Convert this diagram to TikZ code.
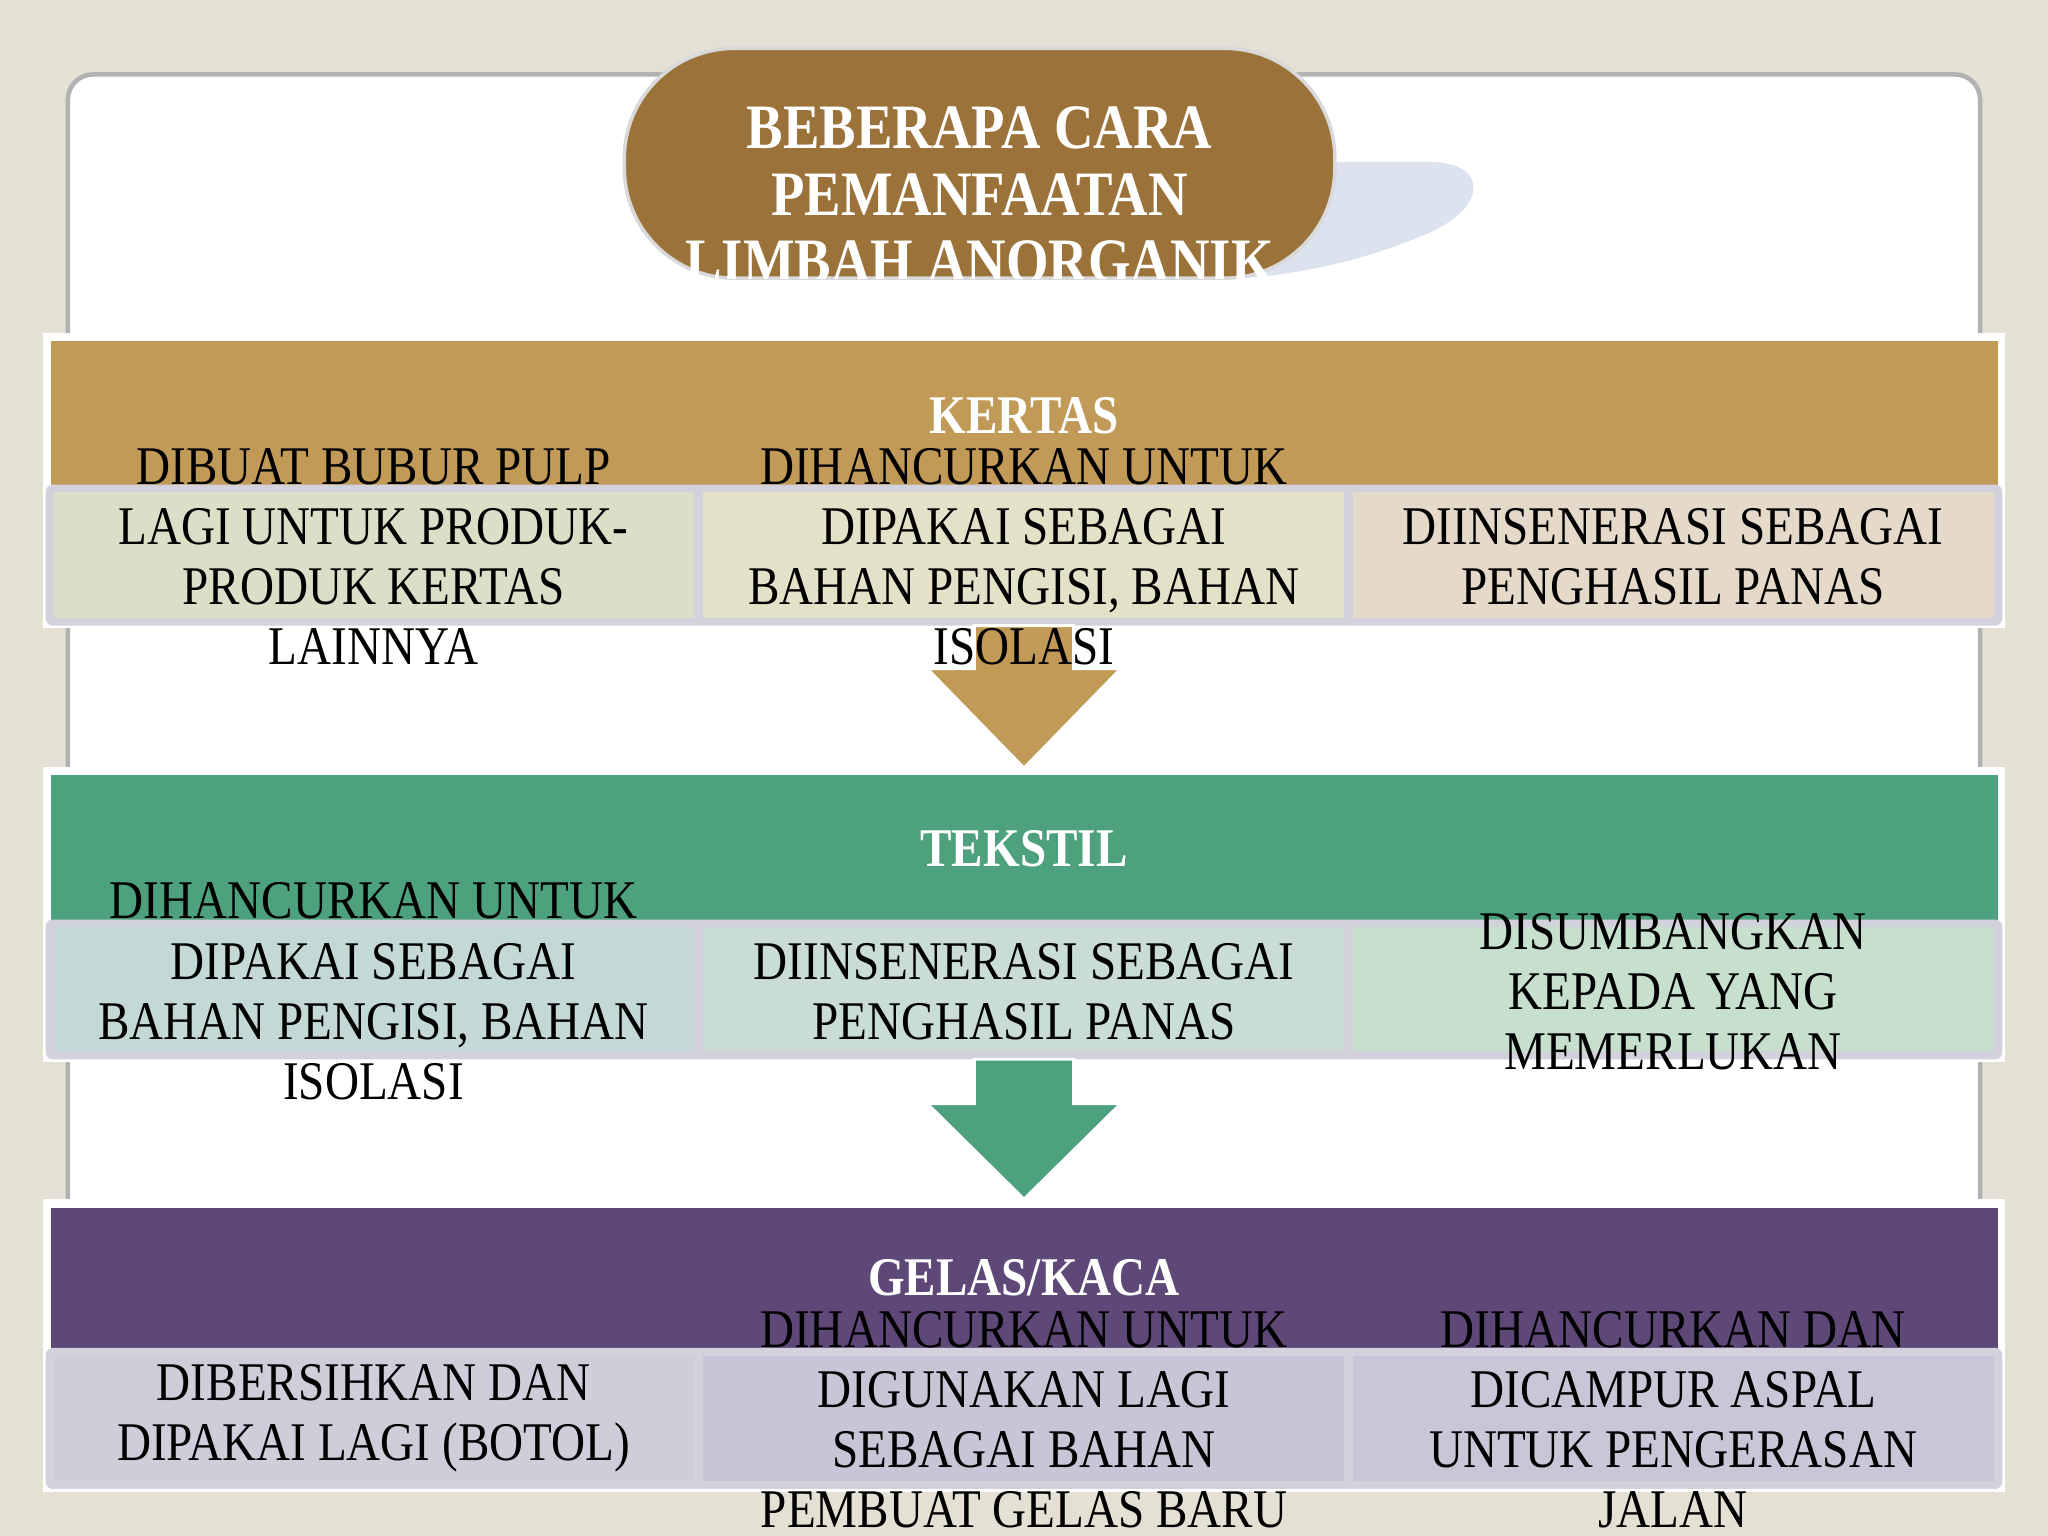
\documentclass[tikz,border=0pt]{standalone}
\usepackage{fontspec}
\setmainfont{Liberation Serif}[FakeStretch=0.865]
\definecolor{bgc}{HTML}{E4E0D4}
\definecolor{pillc}{HTML}{9B733A}
\definecolor{shadowc}{HTML}{DCE3EE}
\definecolor{kband}{HTML}{C19A58}
\definecolor{kcellA}{HTML}{DCDFC7}
\definecolor{kcellB}{HTML}{E3E1C7}
\definecolor{kcellC}{HTML}{E5D9C9}
\definecolor{tband}{HTML}{4EA17D}
\definecolor{tcellA}{HTML}{C4D9D5}
\definecolor{tcellB}{HTML}{C9DCD5}
\definecolor{tcellC}{HTML}{C6E0CD}
\definecolor{gband}{HTML}{5E4878}
\definecolor{gcellA}{HTML}{D1CCDA}
\definecolor{gcellB}{HTML}{C8C6D6}
\definecolor{gcellC}{HTML}{C9C7D7}
\definecolor{cellborder}{HTML}{D3D1DB}
\begin{document}
\begin{tikzpicture}[x=0.013061cm,y=-0.013061cm,
  body/.style={align=center,text=black,font=\fontsize{15.5}{17.1}\selectfont,inner sep=0pt},
  head/.style={align=center,text=white,font=\bfseries\fontsize{15.5}{17.1}\selectfont,inner sep=0pt},
  ttl/.style={align=center,text=white,font=\bfseries\fontsize{18}{19}\selectfont,inner sep=0pt},
  bandborder/.style={fill=white},
  cellrow/.style={fill=cellborder,rounded corners=2pt},
  blockarrow/.style={draw=white,line width=0.8pt}]
\useasboundingbox (0,0) rectangle (1568,1176);
\fill[bgc] (0,0) rectangle (1568,1176);
% white panel
\filldraw[fill=white,draw=black!30,line width=1.3pt,rounded corners=0.25cm] (52,57) rectangle (1516,1100);
% shadow of title
\fill[shadowc] (980,124) -- (1095,124) .. controls (1140,124) and (1140,160) .. (1090,180) .. controls (1050,197) and (1000,210) .. (950,213) -- cycle;
% title pill
\filldraw[fill=pillc,draw=white!85!black,line width=1pt,rounded corners=1.1cm] (478,37) rectangle (1022,213);
\begin{scope}
  \clip (400,30) rectangle (1100,213);
  \node[ttl] (title) at (750,149) {BEBERAPA CARA\\PEMANFAATAN\\LIMBAH ANORGANIK};
\end{scope}

% ---- KERTAS band
\fill[bandborder] (33,255) rectangle (1535,481);
\fill[kband] (39,261) rectangle (1530,476);
\fill[cellrow] (35,371) rectangle (1533,479);
\fill[kcellA] (41,377) rectangle (531,473);
\fill[kcellB] (538,377) rectangle (1029,473);
\fill[kcellC] (1036,377) rectangle (1527,473);

% ---- TEKSTIL band
\fill[bandborder] (33,587) rectangle (1535,813);
\fill[tband] (39,593) rectangle (1530,808);
\fill[cellrow] (35,704) rectangle (1533,811);
\fill[tcellA] (41,710) rectangle (531,805);
\fill[tcellB] (538,710) rectangle (1029,805);
\fill[tcellC] (1036,710) rectangle (1527,805);

% ---- GELAS band
\fill[bandborder] (33,918) rectangle (1535,1142);
\fill[gband] (39,925) rectangle (1530,1137);
\fill[cellrow] (35,1032) rectangle (1533,1140);
\fill[gcellA] (41,1038) rectangle (531,1134);
\fill[gcellB] (538,1038) rectangle (1029,1134);
\fill[gcellC] (1036,1038) rectangle (1527,1134);

% block arrows
\filldraw[fill=kband,blockarrow] (746,479) -- (822,479) -- (822,512) -- (858,512) -- (784,588) -- (710,512) -- (746,512) -- cycle;
\filldraw[fill=tband,blockarrow] (746,811) -- (822,811) -- (822,845) -- (858,845) -- (784,918) -- (710,845) -- (746,845) -- cycle;

% headers
\node[head] (hk) at (784,318) {KERTAS};
\node[head] (ht) at (784,650) {TEKSTIL};
\node[head] (hg) at (784,978) {GELAS/KACA};

% kertas texts
\node[body] (k1) at (286,426) {DIBUAT BUBUR PULP\\LAGI UNTUK PRODUK-\\PRODUK KERTAS\\LAINNYA};
\node[body] (k2) at (784,426) {DIHANCURKAN UNTUK\\DIPAKAI SEBAGAI\\BAHAN PENGISI, BAHAN\\ISOLASI};
\node[body] (k3) at (1281,426) {DIINSENERASI SEBAGAI\\PENGHASIL PANAS};

% tekstil texts
\node[body] (t1) at (286,759) {DIHANCURKAN UNTUK\\DIPAKAI SEBAGAI\\BAHAN PENGISI, BAHAN\\ISOLASI};
\node[body] (t2) at (784,759) {DIINSENERASI SEBAGAI\\PENGHASIL PANAS};
\node[body] (t3) at (1281,759) {DISUMBANGKAN\\KEPADA YANG\\MEMERLUKAN};

% gelas texts
\node[body] (g1) at (286,1086) {DIBERSIHKAN DAN\\DIPAKAI LAGI (BOTOL)};
\node[body] (g2) at (784,1087) {DIHANCURKAN UNTUK\\DIGUNAKAN LAGI\\SEBAGAI BAHAN\\PEMBUAT GELAS BARU};
\node[body] (g3) at (1281,1087) {DIHANCURKAN DAN\\DICAMPUR ASPAL\\UNTUK PENGERASAN\\JALAN};
\end{tikzpicture}
\end{document}
